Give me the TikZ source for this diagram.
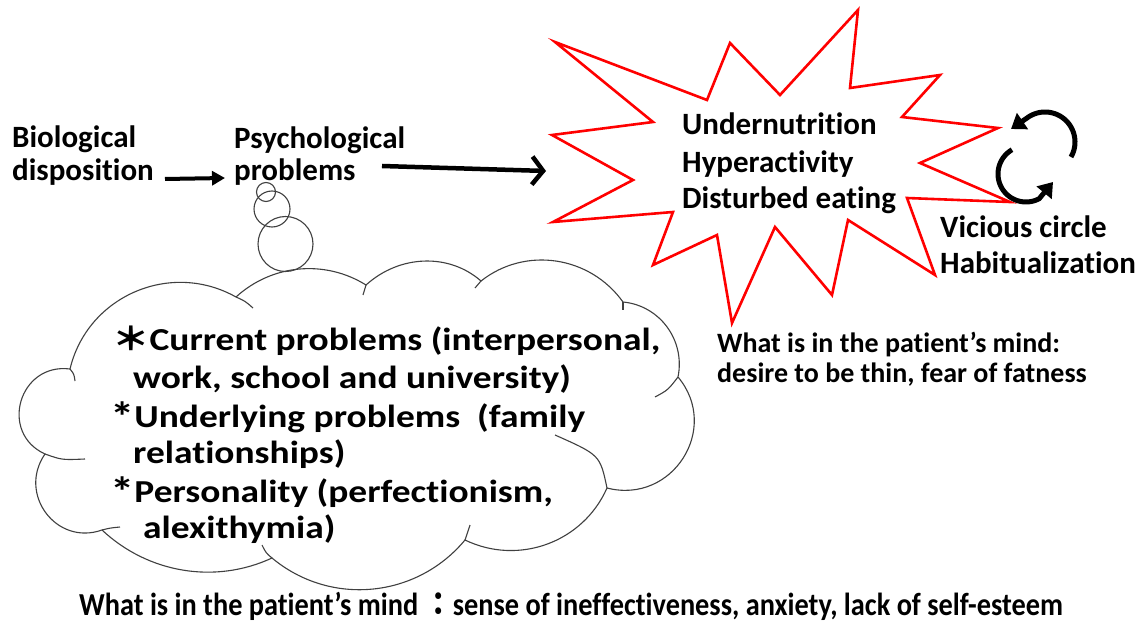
\documentclass[tikz,border=0pt]{standalone}
\usepackage{fontspec}
\usepackage{graphicx}
\setmainfont{Carlito}[Ligatures=NoCommon]
\newfontfamily\cjkfont{Noto Sans CJK JP}
\usetikzlibrary{arrows.meta,calc}
% one lobe of the thought cloud: circular arc from #1 through #2 to #3
\newcommand\cloudlobe[5]{.. controls ($#4*(#1)+1.3333*(#2)-#5*(#3)$) and ($#4*(#3)+1.3333*(#2)-#5*(#1)$) .. (#3)}
\newcommand\bigast{\raisebox{-4pt}{\scalebox{1.3}{*}}}
\begin{document}
\begin{tikzpicture}[x=1pt,y=-1pt,
  lbl/.style={anchor=base west,inner sep=0pt,font=\fontsize{31}{37}\selectfont\bfseries},
  smalllbl/.style={anchor=base west,inner sep=0pt,font=\fontsize{28}{30}\selectfont\bfseries},
  cloudtxt/.style={anchor=base west,inner sep=0pt,font=\fontsize{32}{38}\selectfont\bfseries},
  bottomtxt/.style={anchor=base west,inner sep=0pt,font=\fontsize{32}{38}\selectfont\bfseries},
  starline/.style={draw=red,line width=2.6pt,line join=miter,fill=white},
  cloudline/.style={draw=black!75,line width=1.1pt,fill=white},
  bubble/.style={draw=black!75,line width=1.1pt},
  arrA/.style={line width=4pt,-{Triangle[length=13pt,width=14pt]}},
  arrB/.style={line width=4.5pt,-{Straight Barb[length=11pt,width=28pt]}},
  cyc/.style={line width=5pt,-{Triangle[length=14pt,width=19pt]}}]
\fill[white] (0,0) rectangle (1146,631);
\useasboundingbox (0,0) rectangle (1146,631);

% burst around the physical symptoms
\draw[starline] (555,42) -- (707,100) -- (730,43) -- (780,95) -- (858,10) -- (850,88)
  -- (940,75) -- (902,117) -- (998,128) -- (920,163) -- (1010,202) -- (907,198)
  -- (935,275) -- (848,220) -- (832,295) -- (775,227) -- (732,323) -- (717,235)
  -- (653,265) -- (673,212) -- (553,222) -- (633,180) -- (552,135) -- (653,122) -- cycle;

% thought cloud
\coordinate (K1) at (70,369);   \coordinate (M1) at (135,292);
\coordinate (K2) at (236,297);  \coordinate (M2) at (299,269);
\coordinate (K3) at (366,285);  \coordinate (M3) at (424,261);
\coordinate (K4) at (481,281);  \coordinate (M4) at (556,261);
\coordinate (K5) at (623,302);  \coordinate (M5) at (667,327);
\coordinate (K6) at (678,377);  \coordinate (M6) at (683,458);
\coordinate (K7) at (607,488);  \coordinate (M7) at (547,544);
\coordinate (K8) at (465,540);  \coordinate (M8) at (372,589);
\coordinate (K9) at (272,558);  \coordinate (M9) at (183,570);
\coordinate (K10) at (102,530); \coordinate (M10) at (46,513);
\coordinate (K11) at (45,454);  \coordinate (M11) at (21,401);
\draw[cloudline] (K1) \cloudlobe{K1}{M1}{K2}{0.083}{0.417}
  \cloudlobe{K2}{M2}{K3}{0.037}{0.37}
  \cloudlobe{K3}{M3}{K4}{0.048}{0.381}
  \cloudlobe{K4}{M4}{K5}{0.061}{0.394}
  \cloudlobe{K5}{M5}{K6}{0.066}{0.399}
  \cloudlobe{K6}{M6}{K7}{0.177}{0.51}
  \cloudlobe{K7}{M7}{K8}{0.06}{0.393}
  \cloudlobe{K8}{M8}{K9}{0.057}{0.39}
  \cloudlobe{K9}{M9}{K10}{0.031}{0.364}
  \cloudlobe{K10}{M10}{K11}{0.177}{0.51}
  \cloudlobe{K11}{M11}{K1}{0.247}{0.58} -- cycle;
% inner tails of the lobes
\draw[bubble] (K1) .. controls (74,374) .. (75,381);
\draw[bubble] (K2) .. controls (245,301) .. (253,308);
\draw[bubble] (K3) .. controls (364,290) .. (363,295);
\draw[bubble] (K4) .. controls (478,284) .. (475,288);
\draw[bubble] (K5) .. controls (623,306) .. (623,310);
\draw[bubble] (K6) .. controls (668,390) .. (655,397);
\draw[bubble] (K7) .. controls (600,455) .. (555,435);
\draw[bubble] (K8) .. controls (467,532) .. (470,525);
\draw[bubble] (K9) .. controls (266,553) .. (262,545);
\draw[bubble] (K10) .. controls (110,528) .. (120,527);
\draw[bubble] (K11) .. controls (62,460) .. (85,459);

% thought bubbles
\draw[bubble] (266,192) circle[radius=9.5];
\draw[bubble] (272,209) circle[radius=18];
\draw[bubble] (285.5,244) circle[radius=27.5];

% labels of the causal chain
\node[lbl] (bio1) at (12,148) {Biological};
\node[lbl] (bio2) at (12,181) {disposition};
\node[lbl] (psy1) at (234,149) {Psychological};
\node[lbl] (psy2) at (234,181) {problems};
\node[lbl] (sym1) at (682,135) {Undernutrition};
\node[lbl] (sym2) at (682,173) {Hyperactivity};
\node[lbl] (sym3) at (682,209) {Disturbed eating};
\node[lbl] (vic1) at (940,237) {Vicious circle};
\node[lbl] (vic2) at (940,273) {Habitualization};
\node[smalllbl] (mind1) at (717,352) {What is in the patient’s mind:};
\node[smalllbl] (mind2) at (717,382) {desire to be thin, fear of fatness};

% contents of the thought cloud
\node[cloudtxt] (c1) at (112,350) {\scalebox{1.17}[1]{{\cjkfont ＊}Current problems (interpersonal,}};
\node[cloudtxt] (c2) at (133,388) {\scalebox{1.17}[1]{work, school and university)}};
\node[cloudtxt] (c3) at (110,427) {\scalebox{1.17}[1]{\bigast Underlying problems\ \ (family}};
\node[cloudtxt] (c4) at (133,463) {\scalebox{1.17}[1]{relationships)}};
\node[cloudtxt] (c5) at (110,502) {\scalebox{1.17}[1]{\bigast Personality (perfectionism,}};
\node[cloudtxt] (c6) at (143,538) {\scalebox{1.17}[1]{alexithymia)}};

\node[bottomtxt] (mindb) at (79,615) {\scalebox{0.885}[1]{What is in the patient’s mind {\cjkfont ：}sense of ineffectiveness, anxiety, lack of self-esteem}};

% arrows
\coordinate (a1s) at (165,179);
\coordinate (a1e) at (225,178);
\draw[arrA] (a1s) -- (a1e);
\coordinate (a2s) at (382,166);
\coordinate (a2e) at (546,171);
\draw[arrB] (a2s) -- (a2e);

% vicious circle arrows
\coordinate (v1e) at (1011,129);
\coordinate (v2e) at (1053,182);
\draw[cyc] plot[smooth,domain=30:-122,samples=40] ({1045+30*cos(\x)},{142+30*sin(\x)}) -- (v1e);
\draw[cyc] plot[smooth,domain=240:62,samples=40] ({1026+28*cos(\x)},{174+28*sin(\x)}) -- (v2e);
\end{tikzpicture}
\end{document}
